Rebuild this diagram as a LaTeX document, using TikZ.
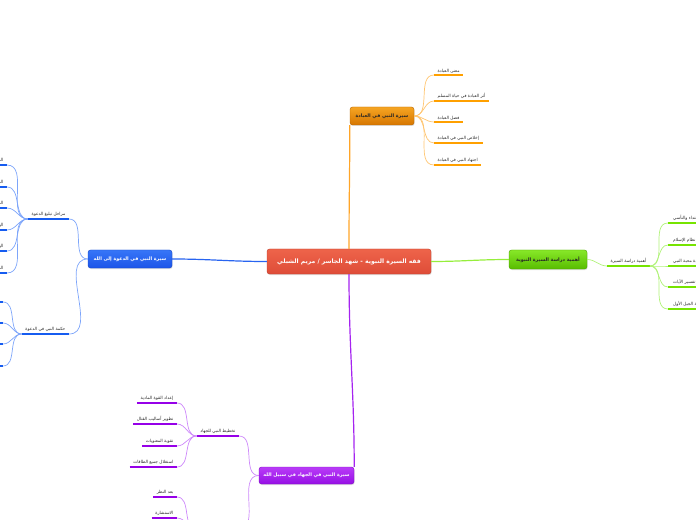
\documentclass[tikz,border=0pt]{standalone}
\usepackage{fontspec}
\newfontfamily\arabicfont[Script=Arabic]{DejaVu Sans}
\TeXXeTstate=1
\usetikzlibrary{shadows}
\newcommand\artxt[1]{\beginR #1\endR}
\definecolor{cTop}{RGB}{238,100,74}
\definecolor{cBot}{RGB}{222,76,56}
\definecolor{oTop}{RGB}{246,165,35}
\definecolor{oBot}{RGB}{214,118,0}
\definecolor{gTop}{RGB}{135,232,40}
\definecolor{gBot}{RGB}{88,188,0}
\definecolor{bTop}{RGB}{55,118,248}
\definecolor{bBot}{RGB}{28,84,232}
\definecolor{pTop}{RGB}{185,60,248}
\definecolor{pBot}{RGB}{150,15,228}
\definecolor{oUl}{RGB}{255,160,0}
\definecolor{gUl}{RGB}{118,228,0}
\definecolor{bUl}{RGB}{22,92,240}
\definecolor{pUl}{RGB}{150,0,232}
\definecolor{oCon}{RGB}{255,196,110}
\definecolor{gCon}{RGB}{176,242,120}
\definecolor{bCon}{RGB}{125,165,250}
\definecolor{pCon}{RGB}{205,135,250}
\definecolor{oLine}{RGB}{255,165,40}
\definecolor{gLine}{RGB}{150,238,60}
\definecolor{bLine}{RGB}{40,100,240}
\definecolor{pLine}{RGB}{165,35,240}
\tikzset{
  mainbox/.style={rounded corners=2.5bp, inner sep=0pt, draw=#1Bot!85!black, line width=0.4bp,
    top color=#1Top, bottom color=#1Bot,
    drop shadow={opacity=0.25, shadow xshift=0.6bp, shadow yshift=-1bp},
    font=\arabicfont\bfseries\fontsize{4.8}{5.5}\selectfont},
  leaf/.style={inner xsep=3.5bp, inner ysep=2bp, text=black!85,
    font=\arabicfont\fontsize{4.3}{5}\selectfont},
  ul/.style={line width=2.4bp, color=#1},
  con/.style={line width=0.7bp, color=#1},
  mline/.style={line width=1.2bp, color=#1}
}
\begin{document}
\begin{tikzpicture}[x=1bp,y=-1bp]
\useasboundingbox (0,0) rectangle (696,520);
\clip (0,0) rectangle (696,520);

% main nodes
\node[mainbox=c, minimum width=164bp, minimum height=25bp, text=white,
  font=\arabicfont\bfseries\fontsize{6.1}{7}\selectfont] (c) at (349,261.5)
  {\artxt{فقه السيرة النبوية - شهد الجاسر / مريم الشبلي}};
\node[mainbox=o, minimum width=64bp, minimum height=18bp, text=black!85] (o) at (382,116)
  {\artxt{سيرة النبي في العبادة}};
\node[mainbox=g, minimum width=78bp, minimum height=19bp, text=black!85] (g) at (548,259.5)
  {\artxt{أهمية دراسة السيرة النبوية}};
\node[mainbox=b, minimum width=84bp, minimum height=18bp, text=white] (b) at (130,259)
  {\artxt{سيرة النبي في الدعوة إلى الله}};
\node[mainbox=p, minimum width=95bp, minimum height=17bp, text=white] (p) at (306.5,475.5)
  {\artxt{سيرة النبي في الجهاد في سبيل الله}};

% main lines
\draw[mline=oLine] (c.north) to[out=90,in=-90] (o.south west);
\draw[mline=gLine] (c.east) to[out=0,in=180] (g.west);
\draw[mline=bLine] (c.west) to[out=180,in=0] (b.east);
\draw[mline=pLine] (c.south) to[out=-90,in=90] (p.north east);

% orange branch
\node[leaf, anchor=south west] (o1) at (434,75) {\artxt{معنى العبادة}};
\node[leaf, anchor=south west] (o2) at (434,101) {\artxt{أثر العبادة في حياة المسلم}};
\node[leaf, anchor=south west] (o3) at (434,122) {\artxt{فضل العبادة}};
\node[leaf, anchor=south west] (o4) at (434,143) {\artxt{إخلاص النبي في العبادة}};
\node[leaf, anchor=south west] (o5) at (434,165) {\artxt{اجتهاد النبي في العبادة}};
\foreach \n in {o1,o2,o3,o4,o5}{
  \draw[con=oCon] (o.east) to[out=0,in=180] (\n.south west);
  \draw[ul=oUl] (\n.south west) -- (\n.south east);
}

% green branch
\node[leaf, anchor=south west] (gc) at (607,266) {\artxt{أهمية دراسة السيرة}};
\draw[con=gCon] (g.east) to[out=0,in=180] (gc.south west);
\draw[ul=gUl] (gc.south west) -- (gc.south east);
\node[leaf, anchor=south west, inner xsep=5bp] (g1) at (668,223) {\artxt{الاقتداء والتأسي}};
\node[leaf, anchor=south west, inner xsep=5bp] (g2) at (668,245) {\artxt{فهم نظام الإسلام}};
\node[leaf, anchor=south west, inner xsep=5bp] (g3) at (668,266) {\artxt{زيادة محبة النبي}};
\node[leaf, anchor=south west, inner xsep=5bp] (g4) at (668,287) {\artxt{المساعدة على تفسير الآيات}};
\node[leaf, anchor=south west, inner xsep=5bp] (g5) at (668,309) {\artxt{معرفة الجيل الأول}};
\foreach \n in {g1,g2,g3,g4,g5}{
  \draw[con=gCon] (gc.south east) to[out=0,in=180] (\n.south west);
  \draw[ul=gUl] (\n.south west) -- (\n.south east);
}

% blue branch
\node[leaf, anchor=south east] (bc1) at (69,219) {\artxt{مراحل تبليغ الدعوة}};
\node[leaf, anchor=south east] (bc2) at (69,334) {\artxt{حكمة النبي في الدعوة}};
\foreach \n in {bc1,bc2}{
  \draw[con=bCon] (b.west) to[out=180,in=0] (\n.south east);
  \draw[ul=bUl] (\n.south west) -- (\n.south east);
}
\node[leaf, anchor=south east] (b11) at (7,165) {\artxt{الدعوة السرية}};
\node[leaf, anchor=south east] (b12) at (7,187) {\artxt{الدعوة الجهرية}};
\node[leaf, anchor=south east] (b13) at (7,208) {\artxt{الدعوة خارج مكة}};
\node[leaf, anchor=south east] (b14) at (7,230) {\artxt{الهجرة إلى الحبشة}};
\node[leaf, anchor=south east] (b15) at (7,251) {\artxt{الهجرة إلى المدينة}};
\node[leaf, anchor=south east] (b16) at (7,273) {\artxt{الدعوة في المدينة}};
\foreach \n in {b11,b12,b13,b14,b15,b16}{
  \draw[con=bCon] (bc1.south west) to[out=180,in=0] (\n.south east);
  \draw[ul=bUl] (\n.south west) -- (\n.south east);
}
\node[leaf, anchor=south east] (b21) at (3,302) {\artxt{الرفق}};
\node[leaf, anchor=south east] (b22) at (3,323) {\artxt{الصبر}};
\node[leaf, anchor=south east] (b23) at (3,344) {\artxt{الحكمة}};
\node[leaf, anchor=south east] (b24) at (3,366) {\artxt{القدوة}};
\foreach \n in {b21,b22,b23,b24}{
  \draw[con=bCon] (bc2.south west) to[out=180,in=0] (\n.south east);
  \draw[ul=bUl] (\n.south west) -- (\n.south east);
}

% purple branch
\node[leaf, anchor=south east] (pc1) at (239,436) {\artxt{تخطيط النبي للجهاد}};
\node[leaf, anchor=south east] (pc2) at (239,529) {\artxt{صفات النبي القيادية}};
\foreach \n in {pc1,pc2}{
  \draw[con=pCon] (p.west) to[out=180,in=0] (\n.south east);
  \draw[ul=pUl] (\n.south west) -- (\n.south east);
}
\node[leaf, anchor=south east] (p11) at (177,403) {\artxt{إعداد القوة المادية}};
\node[leaf, anchor=south east] (p12) at (177,424) {\artxt{تطوير أساليب القتال}};
\node[leaf, anchor=south east] (p13) at (177,446) {\artxt{تقوية المعنويات}};
\node[leaf, anchor=south east] (p14) at (177,467) {\artxt{استغلال جميع الطاقات}};
\foreach \n in {p11,p12,p13,p14}{
  \draw[con=pCon] (pc1.south west) to[out=180,in=0] (\n.south east);
  \draw[ul=pUl] (\n.south west) -- (\n.south east);
}
\node[leaf, anchor=south east] (p21) at (177,497) {\artxt{بعد النظر}};
\node[leaf, anchor=south east] (p22) at (177,518) {\artxt{الاستشارة}};
\node[leaf, anchor=south east] (p23) at (177,539) {\artxt{الشجاعة}};
\node[leaf, anchor=south east] (p24) at (177,560) {\artxt{الحزم}};
\foreach \n in {p21,p22,p23,p24}{
  \draw[con=pCon] (pc2.south west) to[out=180,in=0] (\n.south east);
  \draw[ul=pUl] (\n.south west) -- (\n.south east);
}
\end{tikzpicture}
\end{document}
